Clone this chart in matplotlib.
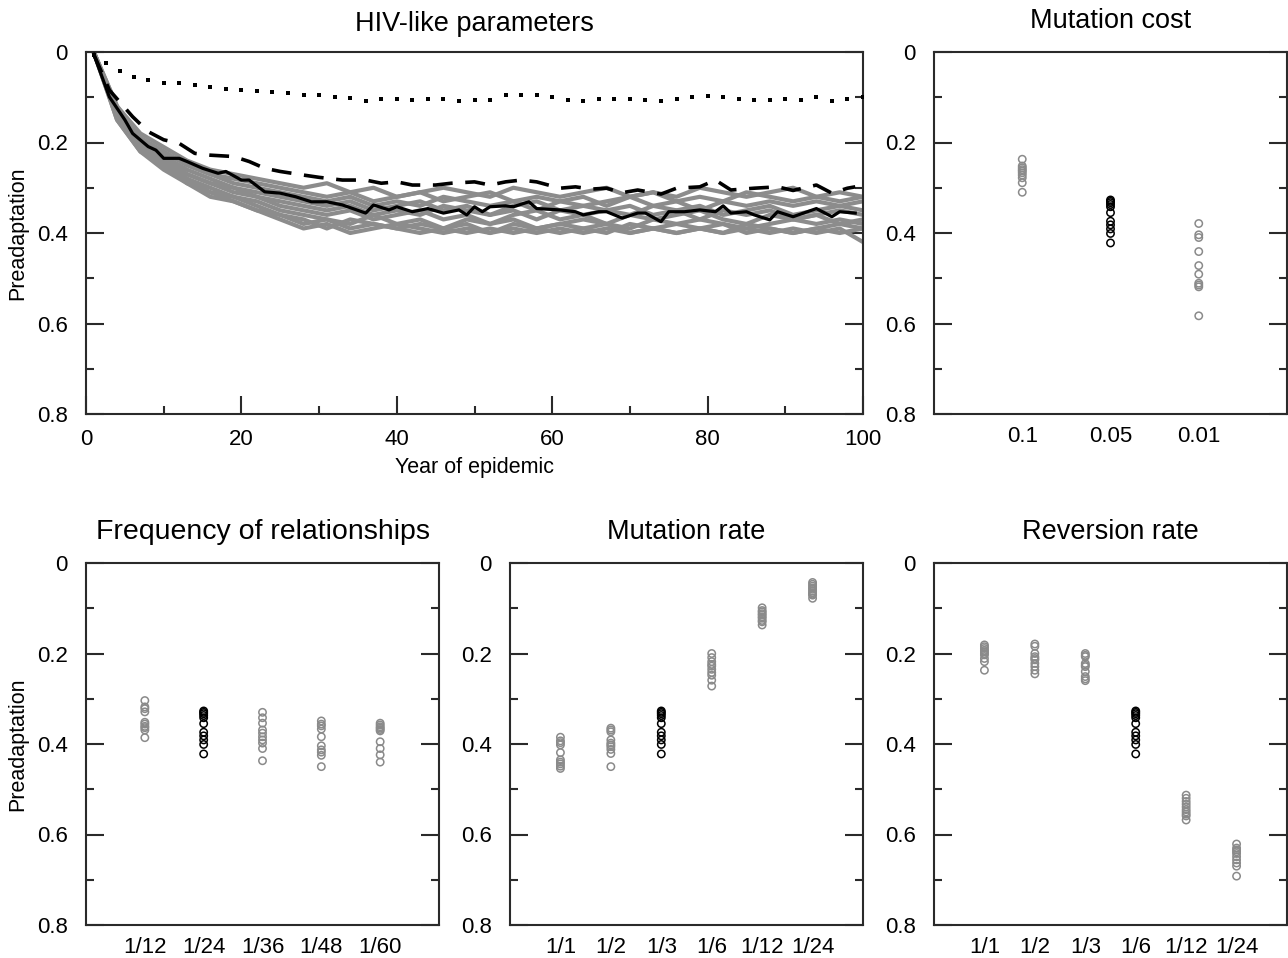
import matplotlib
matplotlib.use('Agg')
import matplotlib.pyplot as plt
from matplotlib.ticker import MultipleLocator

plt.rcParams['font.family'] = ['Liberation Sans', 'DejaVu Sans']

# ---------------- data: main panel ----------------
dot_years = [1, 2.6, 4.4, 6.2, 8, 10, 12, 14, 16, 18, 20, 22, 24, 26, 28, 30, 32, 34, 36, 38,
             40, 42, 44, 46, 48, 50, 52, 54, 56, 58, 60, 62, 64, 66, 68, 70, 72, 74, 76, 78,
             80, 82, 84, 86, 88, 90, 92, 94, 96, 98, 100]
dot_vals = [0.006, 0.024, 0.041, 0.056, 0.062, 0.068, 0.069, 0.073, 0.078, 0.081, 0.084, 0.086,
            0.088, 0.091, 0.095, 0.095, 0.099, 0.102, 0.108, 0.104, 0.104, 0.106, 0.104, 0.104,
            0.108, 0.105, 0.105, 0.095, 0.095, 0.095, 0.099, 0.105, 0.108, 0.104, 0.104, 0.104,
            0.105, 0.108, 0.104, 0.100, 0.097, 0.100, 0.104, 0.106, 0.106, 0.103, 0.106, 0.100,
            0.108, 0.103, 0.100]

dash_years = [1, 3, 6, 8, 10, 12, 14, 16, 19, 21, 23, 25, 28, 30, 33, 36, 38, 40, 42, 45,
              47, 50, 52, 54, 56, 58, 61, 63, 65, 67, 69, 71, 74, 76, 79, 81, 83, 86, 89, 91,
              94, 96, 98, 99]
dash_vals = [0.005, 0.084, 0.143, 0.176, 0.194, 0.202, 0.224, 0.228, 0.231, 0.242,
             0.257, 0.264, 0.272, 0.277, 0.283, 0.283, 0.290, 0.287, 0.294, 0.294,
             0.290, 0.287, 0.294, 0.287, 0.283, 0.287, 0.301, 0.298, 0.303, 0.301,
             0.311, 0.305, 0.314, 0.301, 0.298, 0.283, 0.305, 0.301, 0.298, 0.306,
             0.294, 0.312, 0.301, 0.298]

solid_years = [1, 3, 5, 6, 8, 9, 10, 12, 13, 15, 17, 18, 20, 21, 23, 25, 27, 29, 31, 33,
               36, 37, 39, 40, 42, 44, 46, 48, 49, 50, 51, 52, 54, 55, 57, 58, 61, 63, 64, 66,
               67, 69, 71, 72, 74, 75, 77, 79, 81, 82, 83, 85, 86, 88, 89, 91, 94, 96, 97, 99]
solid_vals = [0.005, 0.099, 0.150, 0.180, 0.209, 0.217, 0.235, 0.235, 0.242, 0.257,
              0.268, 0.264, 0.283, 0.283, 0.309, 0.312, 0.320, 0.331, 0.331, 0.338,
              0.356, 0.338, 0.349, 0.342, 0.353, 0.346, 0.356, 0.349, 0.360, 0.342,
              0.353, 0.342, 0.340, 0.342, 0.331, 0.346, 0.349, 0.353, 0.360, 0.353,
              0.353, 0.367, 0.356, 0.356, 0.375, 0.353, 0.353, 0.349, 0.353, 0.340,
              0.356, 0.353, 0.360, 0.371, 0.353, 0.364, 0.346, 0.364, 0.353, 0.356]

gray_years = [1, 4, 7, 10, 13, 16, 19, 22, 25, 28, 31, 34, 37, 40, 43, 46, 49, 52, 55, 58,
              61, 64, 67, 70, 73, 76, 79, 82, 85, 88, 91, 94, 97, 100]
gray_1 = [0, 0.12, 0.18, 0.21, 0.24, 0.26, 0.27, 0.28, 0.29, 0.30, 0.29, 0.31, 0.30, 0.32, 0.31, 0.30, 0.31,
          0.32, 0.30, 0.31, 0.32, 0.31, 0.30, 0.32, 0.31, 0.32, 0.30, 0.31, 0.32, 0.31, 0.30, 0.32, 0.31, 0.32]
gray_2 = [0, 0.12, 0.19, 0.22, 0.25, 0.27, 0.28, 0.29, 0.30, 0.31, 0.32, 0.31, 0.33, 0.32, 0.31, 0.33, 0.32,
          0.31, 0.33, 0.32, 0.33, 0.32, 0.34, 0.32, 0.31, 0.33, 0.32, 0.33, 0.31, 0.32, 0.33, 0.32, 0.33, 0.32]
gray_3 = [0, 0.13, 0.19, 0.22, 0.25, 0.27, 0.29, 0.30, 0.31, 0.32, 0.33, 0.32, 0.34, 0.33, 0.34, 0.32, 0.33,
          0.34, 0.33, 0.35, 0.33, 0.34, 0.33, 0.32, 0.34, 0.33, 0.35, 0.33, 0.34, 0.33, 0.34, 0.33, 0.34, 0.33]
gray_4 = [0, 0.13, 0.20, 0.23, 0.26, 0.28, 0.30, 0.31, 0.32, 0.33, 0.34, 0.33, 0.35, 0.34, 0.33, 0.35, 0.34,
          0.36, 0.34, 0.33, 0.35, 0.34, 0.35, 0.36, 0.34, 0.35, 0.34, 0.36, 0.35, 0.34, 0.36, 0.35, 0.34, 0.35]
gray_5 = [0, 0.13, 0.20, 0.23, 0.27, 0.29, 0.30, 0.32, 0.33, 0.34, 0.35, 0.34, 0.36, 0.35, 0.36, 0.34, 0.35,
          0.36, 0.35, 0.37, 0.35, 0.36, 0.35, 0.34, 0.36, 0.35, 0.37, 0.35, 0.36, 0.35, 0.37, 0.36, 0.35, 0.36]
gray_6 = [0, 0.14, 0.20, 0.24, 0.27, 0.29, 0.31, 0.32, 0.34, 0.35, 0.36, 0.35, 0.37, 0.36, 0.35, 0.37, 0.36,
          0.38, 0.36, 0.35, 0.37, 0.36, 0.38, 0.36, 0.37, 0.36, 0.35, 0.37, 0.38, 0.36, 0.37, 0.36, 0.38, 0.37]
gray_7 = [0, 0.14, 0.21, 0.24, 0.28, 0.30, 0.32, 0.33, 0.35, 0.36, 0.37, 0.38, 0.36, 0.38, 0.37, 0.39, 0.37,
          0.38, 0.37, 0.39, 0.38, 0.37, 0.38, 0.39, 0.37, 0.38, 0.37, 0.38, 0.39, 0.38, 0.37, 0.38, 0.37, 0.38]
gray_8 = [0, 0.14, 0.21, 0.25, 0.28, 0.31, 0.32, 0.34, 0.36, 0.37, 0.39, 0.37, 0.38, 0.39, 0.38, 0.39, 0.38,
          0.40, 0.38, 0.39, 0.38, 0.39, 0.40, 0.38, 0.39, 0.38, 0.39, 0.40, 0.38, 0.39, 0.40, 0.39, 0.38, 0.39]
gray_9 = [0, 0.15, 0.22, 0.25, 0.29, 0.31, 0.33, 0.35, 0.36, 0.38, 0.37, 0.39, 0.38, 0.39, 0.40, 0.39, 0.40,
          0.39, 0.40, 0.39, 0.40, 0.39, 0.38, 0.40, 0.39, 0.40, 0.39, 0.38, 0.40, 0.39, 0.40, 0.39, 0.40, 0.39]
gray_10 = [0, 0.15, 0.22, 0.26, 0.29, 0.32, 0.33, 0.35, 0.37, 0.39, 0.38, 0.40, 0.39, 0.38, 0.39, 0.40, 0.39,
           0.40, 0.39, 0.40, 0.39, 0.40, 0.39, 0.40, 0.39, 0.40, 0.39, 0.40, 0.39, 0.40, 0.39, 0.40, 0.39, 0.42]
gray_series = [gray_1, gray_2, gray_3, gray_4, gray_5, gray_6, gray_7, gray_8, gray_9, gray_10]

# ---------------- data: scatter panels ----------------
baseline = [0.327, 0.330, 0.333, 0.337, 0.342, 0.355, 0.374, 0.382, 0.391, 0.401, 0.422]

cost_labels = ['0.1', '0.05', '0.01']
cost_vals = [
    [0.237, 0.252, 0.256, 0.260, 0.263, 0.267, 0.272, 0.278, 0.289, 0.310],
    baseline,
    [0.379, 0.404, 0.410, 0.441, 0.472, 0.491, 0.511, 0.515, 0.519, 0.583],
]
cost_base = 1

freq_labels = ['1/12', '1/24', '1/36', '1/48', '1/60']
freq_vals = [
    [0.304, 0.318, 0.322, 0.329, 0.352, 0.356, 0.361, 0.364, 0.369, 0.386],
    baseline,
    [0.330, 0.342, 0.354, 0.369, 0.376, 0.384, 0.391, 0.398, 0.410, 0.437],
    [0.349, 0.356, 0.360, 0.367, 0.384, 0.404, 0.413, 0.418, 0.425, 0.450],
    [0.354, 0.358, 0.362, 0.365, 0.368, 0.371, 0.395, 0.410, 0.424, 0.440],
]
freq_base = 1

mrate_labels = ['1/1', '1/2', '1/3', '1/6', '1/12', '1/24']
mrate_vals = [
    [0.385, 0.393, 0.397, 0.402, 0.419, 0.435, 0.440, 0.444, 0.449, 0.454],
    [0.365, 0.369, 0.373, 0.391, 0.398, 0.402, 0.406, 0.412, 0.421, 0.450],
    baseline,
    [0.200, 0.209, 0.218, 0.224, 0.228, 0.235, 0.242, 0.248, 0.259, 0.272],
    [0.099, 0.105, 0.108, 0.112, 0.115, 0.119, 0.122, 0.127, 0.130, 0.137],
    [0.043, 0.047, 0.051, 0.055, 0.058, 0.062, 0.066, 0.069, 0.071, 0.078],
]
mrate_base = 2

rev_labels = ['1/1', '1/2', '1/3', '1/6', '1/12', '1/24']
rev_vals = [
    [0.181, 0.185, 0.189, 0.193, 0.196, 0.200, 0.203, 0.211, 0.218, 0.237],
    [0.179, 0.184, 0.200, 0.207, 0.211, 0.214, 0.222, 0.229, 0.237, 0.245],
    [0.200, 0.204, 0.207, 0.222, 0.226, 0.229, 0.240, 0.251, 0.256, 0.260],
    baseline,
    [0.513, 0.520, 0.527, 0.533, 0.539, 0.545, 0.550, 0.555, 0.559, 0.568],
    [0.621, 0.630, 0.634, 0.638, 0.642, 0.649, 0.656, 0.663, 0.670, 0.692],
]
rev_base = 3

yticks = [0, 0.2, 0.4, 0.6, 0.8]
ytick_labels = ['0', '0.2', '0.4', '0.6', '0.8']

# ---------------- figure ----------------
W, H = 1288, 958
fig = plt.figure(figsize=(W / 100, H / 100), dpi=100)

TICK_FS = 16
LABEL_FS = 15.5
TITLE_FS = 19.5


def add_ax(l, t, w, h):
    return fig.add_axes([l / W, 1 - (t + h) / H, w / W, h / H])


SPINE = '#2a2a2a'
GRAY = '#8c8c8c'


def style_y(ax):
    for s in ax.spines.values():
        s.set_linewidth(1.5)
        s.set_color(SPINE)
    ax.set_ylim(0.8, 0)
    ax.set_yticks(yticks, labels=ytick_labels)
    ax.yaxis.set_minor_locator(MultipleLocator(0.1))
    ax.tick_params(axis='y', which='both', direction='in', left=True, right=True,
                   labelsize=TICK_FS, pad=13, color=SPINE, width=1.5)
    ax.tick_params(axis='y', which='major', length=13)
    ax.tick_params(axis='y', which='minor', length=6)


# main panel
ax = add_ax(86, 52, 777, 362)
for g in gray_series:
    ax.plot(gray_years, g, color=GRAY, lw=3.0, zorder=2)
ax.plot(dash_years, dash_vals, color='black', lw=2.6, ls=(0, (5.5, 3.5)), zorder=3)
ax.plot(solid_years, solid_vals, color='black', lw=2.3, zorder=4)
ax.plot(dot_years, dot_vals, ls='none', marker='s', ms=3.5, color='black', mew=0, zorder=4)
ax.set_xlim(0, 100)
style_y(ax)
ax.set_xticks([0, 20, 40, 60, 80, 100])
ax.xaxis.set_minor_locator(MultipleLocator(10))
ax.tick_params(axis='x', which='both', direction='in', top=False, bottom=True,
               labelsize=TICK_FS, pad=11, color=SPINE, width=1.5)
ax.tick_params(axis='x', which='major', length=13)
ax.tick_params(axis='x', which='minor', length=6)
ax.set_xlabel('Year of epidemic', fontsize=LABEL_FS, labelpad=5)
ax.set_ylabel('Preadaptation', fontsize=LABEL_FS)
ax.yaxis.set_label_coords(-58 / 777, 0.5)
ax.text(0.5, 1.078, 'HIV-like parameters', transform=ax.transAxes, ha='center', va='center',
        fontsize=TITLE_FS)


def scatter_panel(l, t, labels, vals, base, title, tsize, ylabel=False):
    ax = add_ax(l, t, 353, 362)
    n = len(labels)
    for i, v in enumerate(vals):
        c = 'black' if i == base else '#8a8a8a'
        ax.scatter([i + 1] * len(v), v, s=28, facecolors='none', edgecolors=c,
                   linewidths=1.1, zorder=3)
    ax.set_xlim(0, n + 1)
    style_y(ax)
    ax.set_xticks(range(1, n + 1), labels=labels)
    ax.tick_params(axis='x', length=0, labelsize=TICK_FS, pad=8.5)
    ax.text(0.5, 1.085, title, transform=ax.transAxes, ha='center', va='center', fontsize=tsize)
    if ylabel:
        ax.set_ylabel('Preadaptation', fontsize=LABEL_FS)
        ax.yaxis.set_label_coords(-58 / 353, 0.5)
    return ax


scatter_panel(934, 52, cost_labels, cost_vals, cost_base, 'Mutation cost', TITLE_FS)
scatter_panel(86, 563, freq_labels, freq_vals, freq_base, 'Frequency of relationships', 20.5, ylabel=True)
scatter_panel(510, 563, mrate_labels, mrate_vals, mrate_base, 'Mutation rate', TITLE_FS)
scatter_panel(934, 563, rev_labels, rev_vals, rev_base, 'Reversion rate', TITLE_FS)

fig.savefig('out.png', dpi=100)
